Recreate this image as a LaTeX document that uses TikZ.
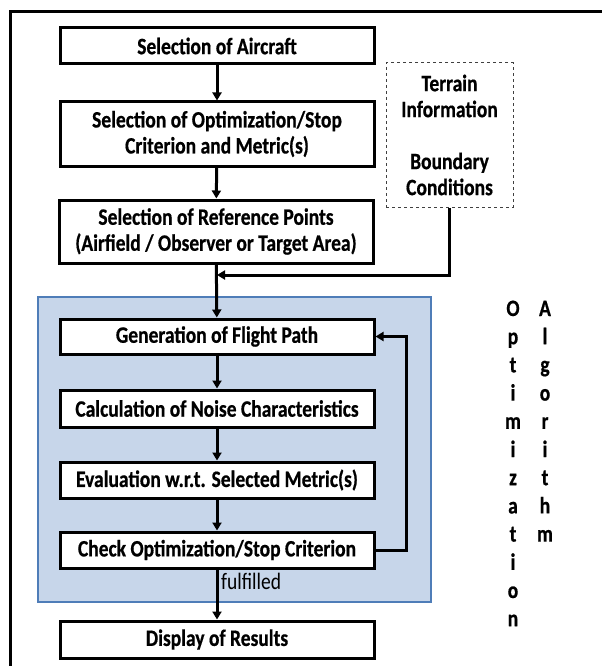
\documentclass[tikz,border=0pt]{standalone}
\usepackage{fontspec}
\setmainfont{Carlito}[FakeStretch=0.83,BoldFeatures={FakeBold=0.6}]
\usetikzlibrary{arrows.meta}
\definecolor{algfill}{HTML}{C7D6EA}
\definecolor{algdraw}{HTML}{4F7DB8}
\begin{document}
\begin{tikzpicture}[x=1pt,y=-1pt,
  stepbox/.style={draw=black,line width=3pt,fill=white,minimum width=314pt,inner sep=0pt,align=center,
    font=\fontsize{23.5}{26}\selectfont\bfseries},
  infobox/.style={draw=black!75,dashed,line width=1pt,minimum width=127pt,minimum height=144pt,inner sep=0pt,align=center,
    font=\fontsize{23.5}{26}\selectfont\bfseries},
  flow/.style={line width=3pt,-{Triangle[length=8pt,width=9pt]}},
  vlet/.style={anchor=base,inner sep=0pt,font=\fontsize{23.5}{24}\selectfont\bfseries}]
\useasboundingbox (0,0) rectangle (602,666);
\draw[line width=3pt] (10,666) -- (10,12) -- (602,12);
% optimization region
\node[draw=algdraw,fill=algfill,line width=1.5pt,minimum width=393pt,minimum height=305pt,inner sep=0pt] (algo) at (234.5,449.5) {};
\node[stepbox,minimum height=36pt] (aircraft) at (217,46) {Selection of Aircraft};
\node[stepbox,minimum height=64pt] (crit) at (217,134) {Selection of Optimization/Stop\\Criterion and Metric(s)};
\node[stepbox,minimum height=63pt] (ref) at (216,231.5) {Selection of Reference Points\\(Airfield / Observer or Target Area)};
\node[infobox] (terrain) at (449.5,135) {Terrain\\Information\\[26pt]Boundary\\Conditions};
\node[stepbox,minimum height=35pt] (gen) at (217,336.5) {Generation of Flight Path};
\node[stepbox,minimum height=37pt] (calc) at (217,408.5) {Calculation of Noise Characteristics};
\node[stepbox,minimum height=36pt] (eval) at (217,480) {Evaluation w.r.t. Selected Metric(s)};
\node[stepbox,minimum height=36pt] (check) at (217,550) {Check Optimization/Stop Criterion};
\node[stepbox,minimum height=37pt] (disp) at (217,639.5) {Display of Results};
\coordinate (join) at (217,275);
\draw[flow] (aircraft) -- (crit);
\draw[flow] (crit) -- (ref);
\draw[flow] (ref) -- (gen);
\draw[flow] (terrain.south) |- (join);
\draw[flow] (gen) -- (calc);
\draw[flow] (calc) -- (eval);
\draw[flow] (eval) -- (check);
\draw[flow] (check) -- (disp);
\draw[flow] (check.east) -- ++(31,0) |- (gen.east);
\node[anchor=west,inner sep=0pt,font=\fontsize{23.5}{24}\selectfont] (ful) at (221,581) {fulfilled};
\foreach \l [count=\i from 0] in {O,p,t,i,m,i,z,a,t,i,o,n}
  \node[vlet] (opt\i) at (513,316+28.2*\i) {\l};
\foreach \l [count=\i from 0] in {A,l,g,o,r,i,t,h,m}
  \node[vlet] (alg\i) at (545,316+28.2*\i) {\l};
\end{tikzpicture}
\end{document}
